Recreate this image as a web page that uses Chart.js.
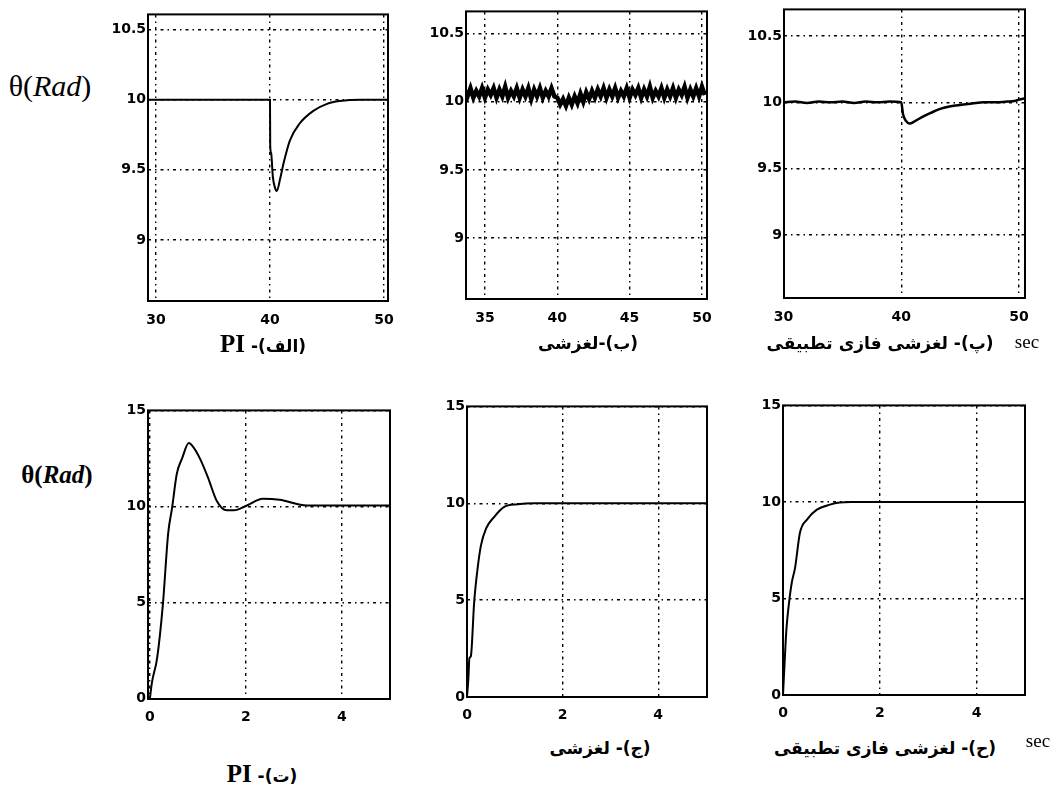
<!DOCTYPE html>
<html><head><meta charset="utf-8">
<script src="https://cdn.jsdelivr.net/npm/chart.js@4.4.0/dist/chart.umd.min.js"></script>
<style>
body{margin:0;background:#fff;width:1061px;height:787px;position:relative;overflow:hidden;}
canvas{position:absolute;}
.lbl{position:absolute;white-space:nowrap;transform:translate(-50%,-50%);color:#000;line-height:1;}
.theta{font-family:"Liberation Serif",serif;}
.cap{font-family:"DejaVu Sans",sans-serif;font-weight:bold;font-size:17px;direction:rtl;}
.pi{font-family:"Liberation Serif",serif;font-weight:bold;font-size:25px;}
.sec{font-family:"Liberation Serif",serif;font-size:19px;}
</style></head><body>
<canvas id="c1"></canvas><canvas id="c2"></canvas><canvas id="c3"></canvas>
<canvas id="c4"></canvas><canvas id="c5"></canvas><canvas id="c6"></canvas>

<div class="lbl theta" style="left:50px;top:86px;font-size:30px;">θ(<i>Rad</i>)</div>
<div class="lbl theta" style="left:57px;top:474px;font-size:25px;font-weight:bold;">θ(<i>Rad</i>)</div>

<div class="lbl cap" style="left:263px;top:343px;">(الف)- <span class="pi">PI</span></div>
<div class="lbl cap" style="left:588px;top:343px;">(ب)-لغزشی</div>
<div class="lbl cap" style="left:880px;top:343px;">(پ)- لغزشی فازی تطبیقی</div>
<div class="lbl sec" style="left:1027px;top:341px;">sec</div>

<div class="lbl cap" style="left:262px;top:773px;">(ت)- <span class="pi">PI</span></div>
<div class="lbl cap" style="left:600px;top:748px;">(ج)- لغزشی</div>
<div class="lbl cap" style="left:885px;top:748px;">(ح)- لغزشی فازی تطبیقی</div>
<div class="lbl sec" style="left:1038px;top:740px;">sec</div>

<script>
// ---- tick labels ----
const topXTicks30 = [30, 40, 50];
const topXTicks35 = [35, 40, 45, 50];
const topYTicks = [9, 9.5, 10, 10.5];
const botXTicks = [0, 2, 4];
const botYTicks = [0, 5, 10, 15];

// ---- (الف) PI, disturbance response ----
const piTopT = [29.3, 40.0, 40.02, 40.1, 40.25, 40.45, 40.6, 40.9, 41.2, 41.75, 42.6, 43.8, 45.0, 46.1, 48.0, 50.35];
const piTopY = [10.0, 10.0, 9.67, 9.62, 9.45, 9.37, 9.35, 9.44, 9.55, 9.71, 9.83, 9.92, 9.97, 9.99, 10.0, 10.0];

// ---- (ب) sliding mode, disturbance response (chattering) ----
const smTopT = [33.6,33.8,34.0,34.2,34.4,34.6,34.8,35.0,35.2,35.4,35.6,35.8,36.0,36.2,36.4,36.6,36.8,37.0,37.2,37.4,37.6,37.8,38.0,38.2,38.4,38.6,38.8,39.0,39.2,39.4,39.6,39.8,
  40.0,40.2,40.4,40.6,40.8,41.0,41.2,41.4,41.6,41.8,42.0,42.2,42.4,42.6,
  42.8,43.0,43.2,43.4,43.6,43.8,44.0,44.2,44.4,44.6,44.8,45.0,45.2,45.4,45.6,45.8,46.0,46.2,46.4,46.6,46.8,47.0,47.2,47.4,47.6,47.8,48.0,48.2,48.4,48.6,48.8,49.0,49.2,49.4,49.6,49.8,50.0,50.2];
const smTopY = [10.09,10.04,10.10,10.03,10.08,10.04,10.10,10.03,10.09,10.05,10.10,10.03,10.09,10.04,10.11,10.03,10.08,10.04,10.10,10.03,10.09,10.04,10.10,10.02,10.09,10.04,10.10,10.03,10.08,10.04,10.10,10.04,
  10.03,9.98,10.02,9.97,10.03,9.98,10.04,9.99,10.06,10.00,10.07,10.02,10.08,10.03,
  10.09,10.04,10.10,10.03,10.09,10.04,10.10,10.03,10.08,10.04,10.10,10.03,10.09,10.05,10.10,10.03,10.09,10.04,10.11,10.03,10.08,10.04,10.10,10.03,10.09,10.04,10.10,10.03,10.09,10.05,10.11,10.03,10.09,10.04,10.10,10.04,10.11,10.05];

// ---- (پ) adaptive fuzzy sliding, disturbance response ----
const adTopT = [30.05, 31, 32, 33, 34, 35, 36, 37, 38, 39, 40.0, 40.15, 40.4, 40.7, 41.2, 41.8, 42.5, 43.3, 44.2, 45.0, 46.0, 47.0, 48.0, 49.0, 49.6, 50.0, 50.5];
const adTopY = [10.0, 10.005, 9.995, 10.005, 10.0, 10.005, 9.995, 10.005, 10.0, 10.005, 10.0, 9.91, 9.86, 9.84, 9.86, 9.89, 9.92, 9.95, 9.97, 9.98, 9.99, 10.0, 10.0, 10.005, 10.01, 10.02, 10.03];

// ---- (ت) PI, step response ----
const piBotT = [0, 0.04, 0.15, 0.27, 0.38, 0.46, 0.56, 0.67, 0.81, 0.9, 1.04, 1.21, 1.39, 1.6, 1.75, 2.02, 2.35, 2.7, 3.27, 3.8, 5.0];
const piBotY = [0, 0.8, 2.1, 4.9, 8.6, 9.9, 11.7, 12.5, 13.3, 13.1, 12.5, 11.5, 10.3, 9.8, 9.8, 10.05, 10.4, 10.35, 10.05, 10.05, 10.05];

// ---- (ج) sliding mode, step response ----
const smBotT = [0, 0.03, 0.05, 0.08, 0.15, 0.22, 0.29, 0.4, 0.57, 0.77, 1.06, 1.4, 5.02];
const smBotY = [0, 1.0, 2.0, 2.1, 4.9, 6.6, 7.8, 8.7, 9.3, 9.8, 9.95, 10.0, 10.0];

// ---- (ح) adaptive fuzzy sliding, step response ----
const adBotT = [0, 0.03, 0.06, 0.08, 0.13, 0.18, 0.25, 0.35, 0.5, 0.7, 0.97, 1.17, 1.4, 5.0];
const adBotY = [0, 1.5, 3.0, 3.7, 4.9, 5.8, 6.6, 8.4, 9.1, 9.6, 9.86, 9.97, 10.0, 10.0];

const frame = {
  id: 'frame',
  afterDatasetsDraw(c) {
    const a = c.chartArea, g = c.ctx;
    g.save(); g.strokeStyle = '#000'; g.lineWidth = 2;
    g.strokeRect(a.left, a.top, a.right - a.left, a.bottom - a.top);
    g.restore();
  }
};

const PADL = 50, PADT = 10, PADR = 20, PADB = 35;
const tickFont = {family: '"DejaVu Sans", sans-serif', size: 14, weight: 'bold'};
const GRID_DASH = [3, 4, 1.5, 4];

function makeChart(id, box, xr, yr, xTicks, yTicks, t, y, lw, mode, xPad) {
  const cv = document.getElementById(id);
  const W = box.R - box.L + PADL + PADR, H = box.B - box.T + PADT + PADB;
  cv.width = W; cv.height = H;
  cv.style.left = (box.L - PADL) + 'px'; cv.style.top = (box.T - PADT) + 'px';
  cv.style.width = W + 'px'; cv.style.height = H + 'px';
  const gridOpts = {color: '#000', lineWidth: 1.4, drawTicks: false, borderDash: GRID_DASH};
  new Chart(cv, {
    type: 'line',
    data: {datasets: [{
      data: t.map((v, i) => ({x: v, y: y[i]})),
      borderColor: '#000', borderWidth: lw, pointRadius: 0, fill: false,
      tension: mode ? 0.4 : 0, cubicInterpolationMode: mode || 'default'
    }]},
    options: {
      responsive: false, animation: false, devicePixelRatio: 1,
      layout: {padding: {left: 0, top: PADT, right: PADR, bottom: 0}},
      plugins: {legend: {display: false}, tooltip: {enabled: false}, title: {display: false}},
      scales: {
        x: {
          type: 'linear', min: xr[0], max: xr[1],
          afterFit: s => { s.height = PADB; },
          afterBuildTicks: s => { s.ticks = xTicks.map(v => ({value: v})); },
          ticks: {font: tickFont, color: '#000', padding: xPad, maxRotation: 0, autoSkip: false, callback: v => String(v)},
          grid: gridOpts,
          border: {display: false, dash: GRID_DASH}
        },
        y: {
          type: 'linear', min: yr[0], max: yr[1],
          afterFit: s => { s.width = PADL; },
          afterBuildTicks: s => { s.ticks = yTicks.map(v => ({value: v})); },
          ticks: {font: tickFont, color: '#000', padding: 2, autoSkip: false, callback: v => String(v)},
          grid: gridOpts,
          border: {display: false, dash: GRID_DASH}
        }
      }
    },
    plugins: [frame]
  });
}

makeChart('c1', {L:148, T:14, R:388, B:301}, [29.3, 50.35], [8.566, 10.607], topXTicks30, topYTicks, piTopT, piTopY, 2, 'monotone', 11);
makeChart('c2', {L:466, T:11, R:707, B:299}, [33.69, 50.35], [8.554, 10.663], topXTicks35, topYTicks, smTopT, smTopY, 4.5, null, 11);
makeChart('c3', {L:784, T:9, R:1025, B:298}, [30.05, 50.5], [8.525, 10.70], topXTicks30, topYTicks, adTopT, adTopY, 2.5, 'monotone', 11);
makeChart('c4', {L:148, T:410, R:390, B:699}, [-0.04, 5.0], [-0.03, 15], botXTicks, botYTicks, piBotT, piBotY, 2, 'monotone', 10);
makeChart('c5', {L:467, T:406, R:707, B:697}, [0, 5.02], [0, 15], botXTicks, botYTicks, smBotT, smBotY, 2, 'monotone', 10);
makeChart('c6', {L:783, T:405, R:1025, B:695}, [0, 5.0], [0, 15], botXTicks, botYTicks, adBotT, adBotY, 2, 'monotone', 10);
</script>
</body></html>
